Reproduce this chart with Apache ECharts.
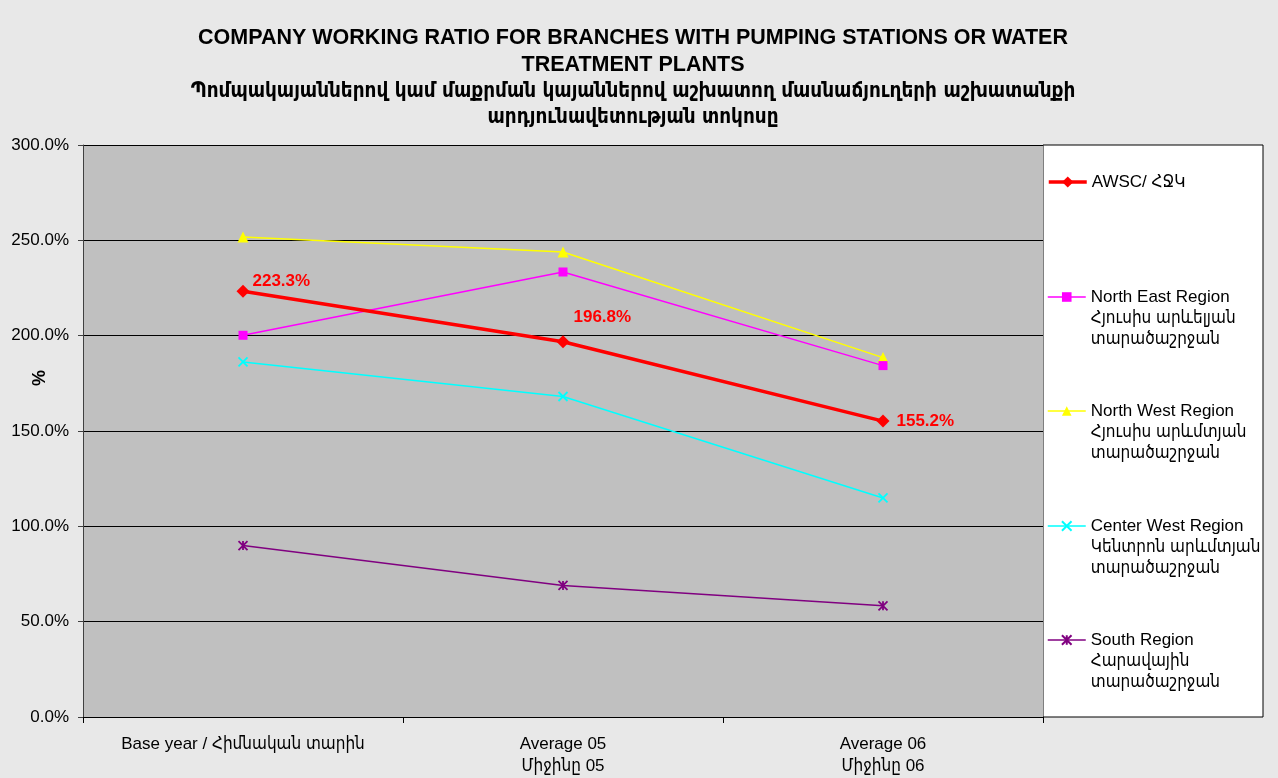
<!DOCTYPE html>
<html>
<head>
<meta charset="utf-8">
<script src="https://cdn.jsdelivr.net/npm/echarts@6/dist/echarts.min.js"></script>
<style>
html,body{margin:0;padding:0;background:#e8e8e8;}
#chart{width:1278px;height:778px;}
</style>
</head>
<body>
<div id="chart"></div>
<script>
var titleLines = [
  'COMPANY WORKING RATIO FOR BRANCHES WITH PUMPING STATIONS OR WATER',
  'TREATMENT PLANTS',
  'Պոմպակայաններով կամ մաքրման կայաններով աշխատող մասնաճյուղերի աշխատանքի',
  'արդյունավետության տոկոսը'
];
var categories = ['Base year / Հիմնական տարին', 'Average 05\nՄիջինը 05', 'Average 06\nՄիջինը 06'];
var yTicks = [0, 50, 100, 150, 200, 250, 300];

var seriesNames = [
  'AWSC/ ՀՋԿ',
  'North East Region\nՀյուսիս արևելյան\nտարածաշրջան',
  'North West Region\nՀյուսիս արևմտյան\nտարածաշրջան',
  'Center West Region\nԿենտրոն արևմտյան\nտարածաշրջան',
  'South Region\nՀարավային\nտարածաշրջան'
];
var awsc = [223.3, 196.8, 155.2];
var northEast = [200.2, 233.4, 184.3];
var northWest = [251.8, 243.9, 188.5];
var centerWest = [186.2, 168.1, 114.9];
var south = [89.9, 69.0, 58.3];

var values = [awsc, northEast, northWest, centerWest, south];
var colors = ['#FF0000', '#FF00FF', '#FFFF00', '#00FFFF', '#800080'];
var symbols = [
  'diamond',
  'rect',
  'triangle',
  'path://M0,0L10,10M10,0L0,10',
  'path://M0,0L10,10M10,0L0,10M5,0L5,10'
];
var symbolSizes = [13, 9, 11, 9, 9];
var lineWidths = [3.5, 1.5, 1.5, 1.5, 1.5];
var labelOffsets = [[-2, -10], [-1, -24], [2, 0]];
var legendIconY = [182, 297, 411, 526, 640];

var FONT = '"Liberation Sans", Arial, "DejaVu Sans Condensed", "Noto Sans", sans-serif';
var HYFONT = '"DejaVu Sans Condensed", "Noto Sans", sans-serif';

var series = values.map(function (vals, i) {
  var isX = symbols[i].indexOf('path://') === 0;
  var s = {
    name: seriesNames[i],
    type: 'line',
    data: vals,
    symbol: symbols[i],
    symbolSize: symbolSizes[i],
    z: i === 0 ? 10 : 5 - i,
    lineStyle: { color: colors[i], width: lineWidths[i] },
    itemStyle: isX ? { color: colors[i], borderColor: colors[i], borderWidth: 1.8 } : { color: colors[i], borderWidth: 0 },
    emphasis: { disabled: true },
    animation: false
  };
  if (i === 0) {
    s.data = vals.map(function (v, j) {
      return {
        value: v,
        label: {
          show: true,
          position: 'right',
          distance: 5,
          offset: labelOffsets[j],
          formatter: function (p) { return p.value.toFixed(1) + '%'; },
          color: '#FF0000',
          fontWeight: 'bold',
          fontSize: 17,
          fontFamily: FONT
        }
      };
    });
  }
  return s;
});

var LH = 21;
var legends = seriesNames.map(function (name, i) {
  var lines = name.split('\n').length;
  var totalLines = 2 * lines - 1;
  var boxH = totalLines * LH;
  return {
    top: legendIconY[i] - boxH / 2,
    left: 1047,
    orient: 'vertical',
    data: [{ name: name, lineStyle: { width: lineWidths[i], color: colors[i] } }],
    itemWidth: 38,
    itemHeight: i === 0 ? 14 : 12,
    itemGap: 0,
    selectedMode: false,
    padding: 0,
    formatter: function (n) {
      var k = n.split('\n').length;
      var pre = '';
      for (var t = 1; t < k; t++) pre += ' \n';
      return pre + n;
    },
    textStyle: {
      fontSize: 17,
      color: '#000',
      fontFamily: FONT,
      lineHeight: LH
    }
  };
});

var chart = echarts.init(document.getElementById('chart'));
chart.setOption({
  backgroundColor: '#e8e8e8',
  animation: false,
  title: {
    text: '{en|' + titleLines[0] + '}\n{en|' + titleLines[1] + '}\n{hy|' + titleLines[2] + '}\n{hy|' + titleLines[3] + '}',
    left: 628,
    textAlign: 'center',
    top: 20,
    textStyle: {
      rich: {
        en: { fontFamily: FONT, fontSize: 21.5, fontWeight: 'bold', color: '#000', lineHeight: 26.5 },
        hy: { fontFamily: HYFONT, fontSize: 20.5, fontWeight: 'bold', color: '#000', lineHeight: 26.5 }
      }
    }
  },
  legend: legends,
  grid: { left: 83, right: 235, top: 145, bottom: 61, show: true, backgroundColor: '#C0C0C0', borderWidth: 0 },
  xAxis: {
    type: 'category',
    data: categories,
    boundaryGap: true,
    axisLine: { lineStyle: { color: '#000', width: 1 } },
    axisTick: { show: true, length: 6, lineStyle: { color: '#000' } },
    axisLabel: { color: '#000', fontSize: 17, fontFamily: FONT, lineHeight: 22, margin: 16, interval: 0 }
  },
  yAxis: {
    type: 'value',
    min: yTicks[0],
    max: yTicks[yTicks.length - 1],
    interval: yTicks[1] - yTicks[0],
    axisLine: { show: true, lineStyle: { color: '#404040', width: 1 } },
    axisTick: { show: true, length: 5, lineStyle: { color: '#404040' } },
    axisLabel: { color: '#000', fontSize: 17, fontFamily: FONT, margin: 14, formatter: function (v) { return v.toFixed(1) + '%'; } },
    splitLine: { show: true, lineStyle: { color: '#000', width: 1 } }
  },
  graphic: [
    {
      type: 'rect',
      shape: { x: 1043, y: 145, width: 220, height: 572 },
      style: { fill: '#fff', stroke: '#000', lineWidth: 1 },
      z: -1
    },
    {
      type: 'text',
      x: 40,
      y: 378,
      rotation: Math.PI / 2,
      style: { text: '%', fontSize: 18, fontWeight: 'bold', fontFamily: FONT, fill: '#000', align: 'center', verticalAlign: 'middle' }
    }
  ],
  series: series
});
</script>
</body>
</html>
